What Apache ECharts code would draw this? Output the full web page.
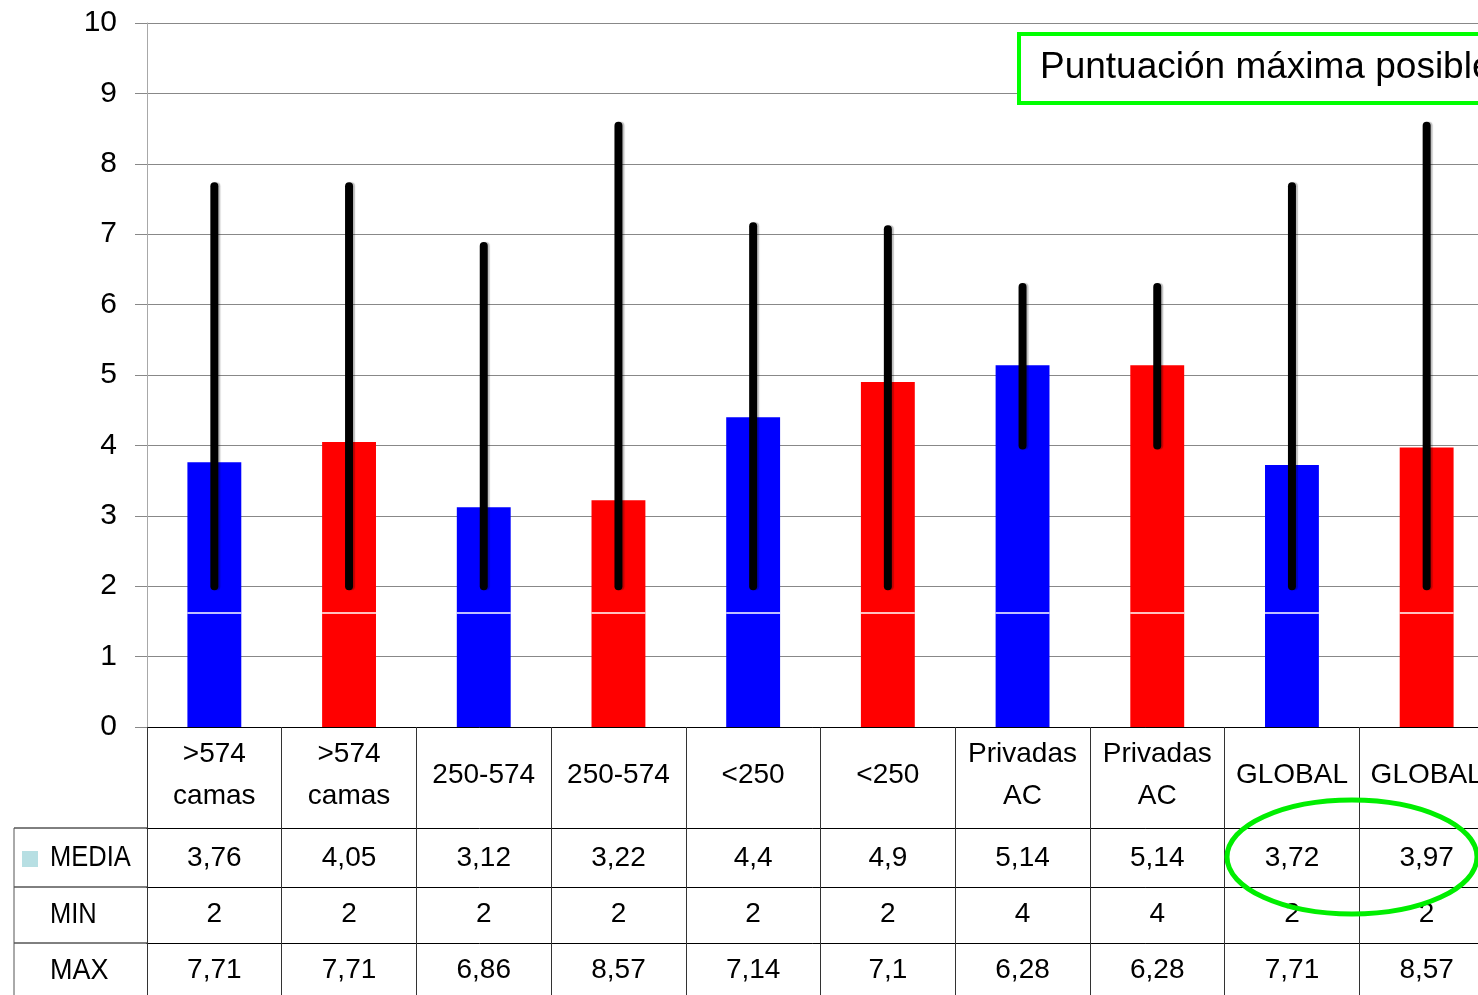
<!DOCTYPE html>
<html>
<head>
<meta charset="utf-8">
<script src="https://cdn.jsdelivr.net/npm/echarts@6/dist/echarts.min.js"></script>
<style>
html, body { margin: 0; padding: 0; background: #fff; overflow: hidden; }
#main { width: 1478px; height: 995px; }
</style>
</head>
<body>
<div id="main"></div>
<script>
var categories = ['>574\ncamas', '>574\ncamas', '250-574', '250-574', '<250', '<250', 'Privadas\nAC', 'Privadas\nAC', 'GLOBAL', 'GLOBAL'];
var mediaData = [3.76, 4.05, 3.12, 3.22, 4.4, 4.9, 5.14, 5.14, 3.72, 3.97];
var minData = [2, 2, 2, 2, 2, 2, 4, 4, 2, 2];
var maxData = [7.71, 7.71, 6.86, 8.57, 7.14, 7.1, 6.28, 6.28, 7.71, 8.57];
var rowNames = ['MEDIA', 'MIN', 'MAX'];
var yTicks = [0, 1, 2, 3, 4, 5, 6, 7, 8, 9, 10];
var splitLevel = 1.62; // linea blanca dentro de las barras
var boxText = 'Puntuación máxima posible';

var FONT = '"Liberation Sans", Arial, sans-serif';

function fmt(v) {
	return String(v).replace('.', ',');
}

var myChart = echarts.init(document.getElementById('main'));

// ejes del pie: cabecera + tres filas de la tabla
function tableAxis(offset, margin, values) {
	return {
		type: 'category',
		data: categories,
		position: 'bottom',
		offset: offset,
		boundaryGap: true,
		axisLine: { show: true, lineStyle: { color: '#000', width: 1 } },
		axisTick: { show: false },
		axisLabel: {
			interval: 0,
			margin: margin,
			verticalAlign: 'middle',
			fontSize: 28,
			fontFamily: FONT,
			color: '#000',
			formatter: function (val, idx) { return fmt(values[idx]); }
		},
		splitLine: { show: false }
	};
}

var option = {
	animation: false,
	backgroundColor: '#fff',
	grid: { left: 147, top: 23, width: 1347, height: 704, containLabel: false, outerBoundsMode: 'none' },
	xAxis: [
		{
			type: 'category',
			data: categories,
			position: 'bottom',
			boundaryGap: true,
			axisLine: { show: true, lineStyle: { color: '#000', width: 1 } },
			axisTick: { show: true, interval: 0, length: 268, lineStyle: { color: '#333', width: 1 } },
			axisLabel: {
				interval: 0,
				margin: 48,
				verticalAlign: 'middle',
				fontSize: 28,
				lineHeight: 42,
				fontFamily: FONT,
				color: '#000'
			},
			splitLine: { show: false }
		},
		tableAxis(101, 30, mediaData),
		tableAxis(160, 27, minData),
		tableAxis(216, 27, maxData)
	],
	yAxis: {
		type: 'value',
		min: yTicks[0],
		max: yTicks[yTicks.length - 1],
		interval: 1,
		axisLine: { show: true, lineStyle: { color: '#a8a8a8', width: 1 } },
		axisTick: { show: true, length: 12, lineStyle: { color: '#888' } },
		axisLabel: { fontSize: 30, margin: 30, fontFamily: FONT, color: '#000' },
		splitLine: { show: true, lineStyle: { color: '#888', width: 1 } }
	},
	series: [
		{
			name: 'MEDIA',
			type: 'bar',
			xAxisIndex: 0,
			barWidth: '40%',
			data: mediaData,
			itemStyle: {
				color: function (p) { return p.dataIndex % 2 === 0 ? '#0000ff' : '#ff0000'; }
			},
			z: 2
		},
		{
			name: 'MIN-MAX',
			type: 'custom',
			xAxisIndex: 0,
			data: categories.map(function (c, i) { return [i, minData[i], maxData[i]]; }),
			renderItem: function (params, api) {
				var lo = api.coord([api.value(0), api.value(1)]);
				var hi = api.coord([api.value(0), api.value(2)]);
				var sep = api.coord([api.value(0), splitLevel]);
				var bw = api.size([1, 0])[0] * 0.4;
				return {
					type: 'group',
					children: [
						{
							type: 'line',
							shape: { x1: sep[0] - bw / 2, y1: sep[1], x2: sep[0] + bw / 2, y2: sep[1] },
							style: { stroke: '#fff', lineWidth: 1.5 }
						},
						{
							type: 'line',
							shape: { x1: hi[0], y1: hi[1] + 2, x2: lo[0], y2: lo[1] },
							style: {
								stroke: '#000', lineWidth: 8, lineCap: 'round',
								shadowColor: 'rgba(0,0,0,0.25)', shadowOffsetX: 2, shadowBlur: 1
							}
						}
					]
				};
			},
			z: 5
		}
	],
	graphic: [
		// cabecera de filas de la tabla
		{ type: 'line', shape: { x1: 14, y1: 828, x2: 147, y2: 828 }, style: { stroke: '#000', lineWidth: 1 } },
		{ type: 'line', shape: { x1: 14, y1: 887, x2: 147, y2: 887 }, style: { stroke: '#000', lineWidth: 1 } },
		{ type: 'line', shape: { x1: 14, y1: 943, x2: 147, y2: 943 }, style: { stroke: '#000', lineWidth: 1 } },
		{ type: 'line', shape: { x1: 14, y1: 828, x2: 14, y2: 995 }, style: { stroke: '#555', lineWidth: 1 } },
		{ type: 'rect', shape: { x: 22, y: 851, width: 16, height: 16 }, style: { fill: '#b7dfe3' } },
		{ type: 'text', x: 50, y: 858, scaleX: 0.85, style: { text: rowNames[0], font: '30px ' + FONT, fill: '#000', verticalAlign: 'middle' } },
		{ type: 'text', x: 50, y: 915, scaleX: 0.85, style: { text: rowNames[1], font: '30px ' + FONT, fill: '#000', verticalAlign: 'middle' } },
		{ type: 'text', x: 50, y: 971, scaleX: 0.9, style: { text: rowNames[2], font: '30px ' + FONT, fill: '#000', verticalAlign: 'middle' } },
		// recuadro verde
		{
			type: 'rect', z: 10,
			shape: { x: 1019, y: 34, width: 520, height: 69 },
			style: { fill: '#fff', stroke: '#00ff00', lineWidth: 4 }
		},
		{
			type: 'text', z: 11, x: 1040, y: 68,
			style: { text: boxText, font: '37px ' + FONT, fill: '#000', verticalAlign: 'middle' }
		},
		// elipse verde sobre GLOBAL
		{
			type: 'ellipse', z: 10,
			shape: { cx: 1352, cy: 857, rx: 125, ry: 57 },
			style: { fill: 'none', stroke: '#00ee00', lineWidth: 5 }
		}
	]
};

myChart.setOption(option);
</script>
</body>
</html>
